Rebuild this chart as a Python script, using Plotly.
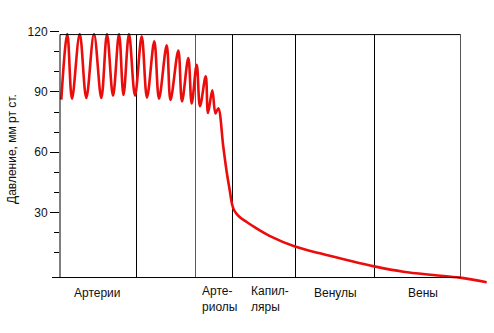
import plotly.graph_objects as go

# Pressure curve along the vascular bed (position in arbitrary units, pressure in mm Hg)
position = [1.3, 7.3, 12.0, 19.7, 26.3, 34.0, 41.3, 47.0, 53.0, 59.0, 63.5, 69.0, 75.0,
            81.7, 87.0, 94.3, 99.0, 106.7, 110.5, 118.3, 122.0, 128.3, 131.7, 136.7,
            140.0, 145.7, 148.0, 152.3, 155.5, 158.3, 163.3, 166.7, 170.0, 172.0, 174.0,
            178.5, 186.7, 195.0, 210.0, 235.0, 260.0, 286.7, 314.3, 343.3, 373.3, 400.0, 426.7]
pressure = [86.2, 118.9, 86.6, 118.9, 87.0, 118.9, 87.0, 118.9, 88.1, 118.9, 88.5, 118.9, 88.2,
            117.7, 87.2, 115.2, 86.7, 113.3, 86.0, 110.6, 85.3, 106.9, 84.3, 103.6,
            82.9, 97.8, 79.5, 90.8, 79.3, 81.9, 62.7, 50.1, 40.2, 34.2, 31.2,
            28.2, 25.2, 22.5, 18.2, 13.0, 9.6, 6.3, 3.1, 0.45, -1.2, -2.5, -4.8]

# Section boundaries along the bed and the names under each section
boundaries = [0, 76.5, 135.5, 172.5, 235.5, 314.5, 400.5]
section_names = ["Артерии", "", "Арте-<br>риолы", "Капил-<br>ляры", "Венулы", "Вены"]

major_ticks = [30, 60, 90, 120]
minor_ticks = [10, 20, 40, 50, 70, 80, 100, 110]
y_title = "Давление, мм рт ст."

# frame levels
y_top = 118.6
y_base = -2.45

W, H = 494, 333
ML, MT, MB = 60, 30, 43
plot_h = H - MT - MB
y_range = [-8.67, 120.88]
FONT = "Liberation Sans, Arial, sans-serif"

fig = go.Figure()
fig.add_trace(go.Scatter(
    x=position, y=pressure, mode="lines",
    line=dict(color="rgb(235,12,12)", width=2.6, shape="spline", smoothing=1.0),
    hoverinfo="skip", showlegend=False,
))

black = "#000000"
shapes = []
# y-axis line and the short stub of the baseline to its left
shapes.append(dict(type="line", xref="paper", yref="y", x0=0, x1=0, y0=y_base, y1=y_top,
                   line=dict(color=black, width=1)))
shapes.append(dict(type="line", xref="paper", yref="y", x0=-8 / (W - ML), x1=0, y0=y_base, y1=y_base,
                   line=dict(color=black, width=1)))
# baseline and top line
shapes.append(dict(type="line", xref="x", yref="y", x0=boundaries[0], x1=boundaries[-1],
                   y0=y_base, y1=y_base, line=dict(color=black, width=1)))
shapes.append(dict(type="line", xref="x", yref="y", x0=boundaries[0], x1=boundaries[-1],
                   y0=y_top, y1=y_top, line=dict(color=black, width=1)))
# section dividers
divider_colors = ["#000000", "#5a5a5a", "#000000", "#000000", "#000000", "#555555"]
for b, c in zip(boundaries[1:], divider_colors):
    shapes.append(dict(type="line", xref="x", yref="y", x0=b, x1=b, y0=y_base, y1=y_top,
                       line=dict(color=c, width=1), layer="below"))


def paper_y(py):
    return (H - MB - py) / plot_h


# left edge of each section label (axis units); vertical centre of one- and two-line labels (px)
label_left = [11.7, None, 140.0, 189.3, 252.3, 345.7]
center_py = {1: 292.5, 2: 298.8}

annotations = []
for left, txt in zip(label_left, section_names):
    if not txt:
        continue
    n_lines = txt.count("<br>") + 1
    annotations.append(dict(
        x=left, y=paper_y(center_py[n_lines]), xref="x", yref="paper",
        text=txt, showarrow=False, xanchor="left", yanchor="middle", align="left",
        font=dict(family=FONT, size=12, color="#111111"),
    ))
annotations.append(dict(
    x=(12 - ML) / (W - ML), y=paper_y(149), xref="paper", yref="paper",
    text=y_title, showarrow=False, textangle=-90, xanchor="center", yanchor="middle",
    font=dict(family=FONT, size=12, color="#111111"),
))

fig.update_layout(
    width=W, height=H,
    margin=dict(l=ML, r=0, t=MT, b=MB, pad=0),
    paper_bgcolor="white", plot_bgcolor="white",
    font=dict(family=FONT, size=12, color="#111111"),
    xaxis=dict(visible=False, range=[0, W - ML], fixedrange=True),
    yaxis=dict(range=y_range, showgrid=False, zeroline=False, showline=False,
               tickmode="array", tickvals=major_ticks, ticktext=[str(v) for v in major_ticks],
               ticks="outside", ticklen=9, tickwidth=1, tickcolor=black,
               tickfont=dict(size=12, color="#111111"),
               minor=dict(tickmode="array", tickvals=minor_ticks, ticks="outside",
                          ticklen=5, tickwidth=1, tickcolor=black, showgrid=False),
               fixedrange=True),
    shapes=shapes,
    annotations=annotations,
    showlegend=False,
)

fig.write_html("out.html")
